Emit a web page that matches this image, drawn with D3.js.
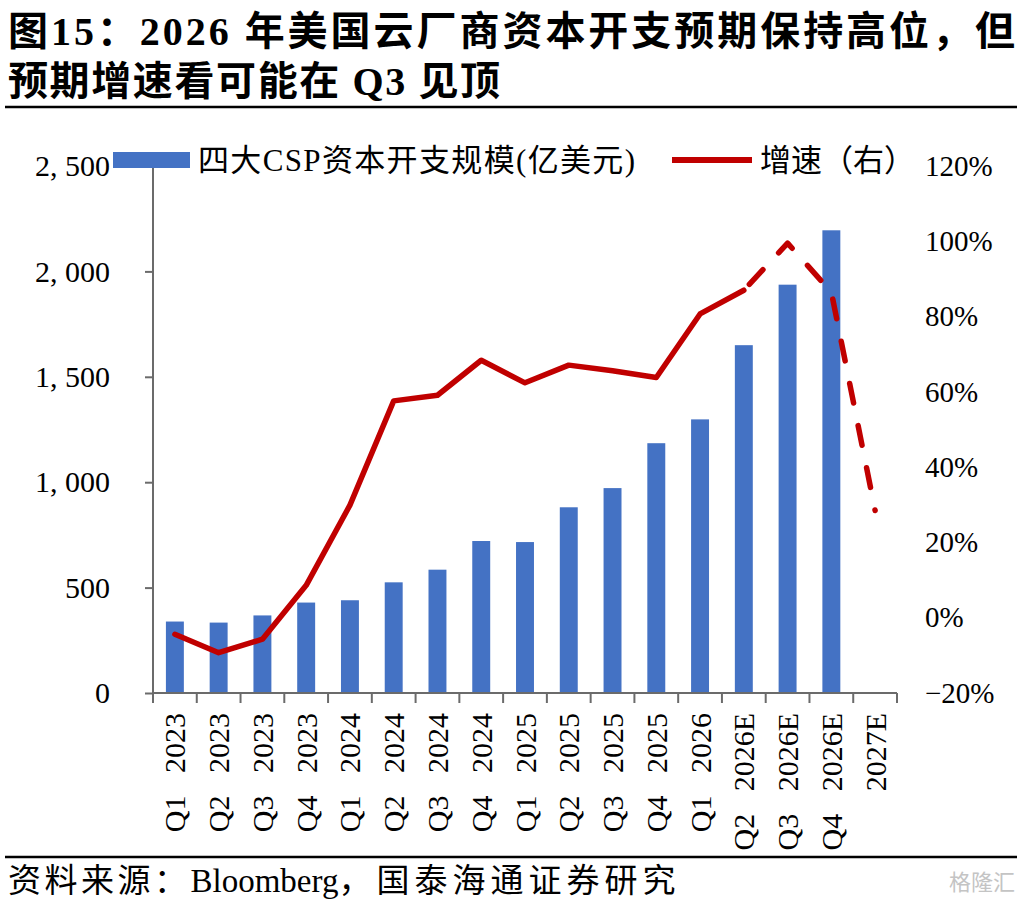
<!DOCTYPE html>
<html>
<head>
<meta charset="utf-8">
<title>图15</title>
<script src="https://cdn.jsdelivr.net/npm/d3@7"></script>
<style>
  body { margin: 0; background: #fff; }
  text { font-family: "Liberation Serif", "Noto Sans CJK SC", serif; }
</style>
</head>
<body>
<svg width="1022" height="905"></svg>
<script>
// data
var categories = ["Q1 2023", "Q2 2023", "Q3 2023", "Q4 2023",
                  "Q1 2024", "Q2 2024", "Q3 2024", "Q4 2024",
                  "Q1 2025", "Q2 2025", "Q3 2025", "Q4 2025",
                  "Q1 2026", "Q2 2026E", "Q3 2026E", "Q4 2026E", "2027E"];
var capex = [339, 334, 368, 429, 440, 525, 585, 721, 716, 881, 972, 1185, 1298, 1650, 1937, 2195, null];
var growth = [-4.4, -9.3, -5.7, 8.6, 29.9, 57.6, 59.1, 68.4, 62.4, 67.1, 65.6, 63.8, 80.7, 87.0, 99.5, 86.5, 28.5];
var dashFrom = 13; // growth line is dashed from Q2 2026E on
var leftTicks = [0, 500, 1000, 1500, 2000, 2500];
var rightTicks = [-20, 0, 20, 40, 60, 80, 100, 120];
var titleLines = ["图15：2026 年美国云厂商资本开支预期保持高位，但", "预期增速看可能在 Q3 见顶"];
var legendLabels = ["四大CSP资本开支规模(亿美元)", "增速（右）"];
var sourceParts = ["资料来源：", "Bloomberg", "，国泰海通证券研究"];

var svg = d3.select("svg"),
    plotL = 153, plotR = 897, plotT = 166, plotB = 693,
    axisColor = "#6b6b6b", barColor = "#4472C4", lineColor = "#C00000";

// title
svg.append("text").attr("x", 8).attr("y", 45)
    .attr("font-size", 40).attr("font-weight", "bold")
    .attr("textLength", 1007).attr("lengthAdjust", "spacing")
    .text(titleLines[0]);
svg.append("text").attr("x", 8).attr("y", 95)
    .attr("font-size", 40).attr("font-weight", "bold")
    .attr("textLength", 492).attr("lengthAdjust", "spacing")
    .text(titleLines[1]);
svg.append("line").attr("x1", 5).attr("x2", 1017).attr("y1", 107).attr("y2", 107)
    .attr("stroke", "#000").attr("stroke-width", 2.5);

var x = d3.scaleBand().domain(categories).range([plotL, plotR]).padding(0);
var y = d3.scaleLinear().domain([0, 2500]).range([plotB, plotT]);
var y2 = d3.scaleLinear().domain([-20, 120]).range([plotB, plotT]);

// bars
var barW = x.bandwidth() * 0.41;
svg.append("g").selectAll("rect")
    .data(categories.map(function(c, i) { return { c: c, v: capex[i] }; })
      .filter(function(d) { return d.v != null; }))
    .enter().append("rect")
      .attr("x", function(d) { return x(d.c) + (x.bandwidth() - barW) / 2; })
      .attr("width", barW)
      .attr("y", function(d) { return y(d.v); })
      .attr("height", function(d) { return y(0) - y(d.v); })
      .attr("fill", barColor);

// left axis
var yAxis = svg.append("g").attr("transform", "translate(" + plotL + ",0)")
    .call(d3.axisLeft(y).tickValues(leftTicks).tickSize(8).tickPadding(35)
      .tickFormat(function(d) { return d3.format(",")(d).replace(",", ", "); }));
yAxis.selectAll("path, line").attr("stroke", axisColor).attr("stroke-width", 2);
yAxis.select(".domain").attr("d", "M0," + plotT + "V" + plotB);
yAxis.selectAll("text").attr("font-size", 30).attr("fill", "#000")
    .style("font-family", "'Liberation Serif', serif");

// right axis, labels only
var y2Axis = svg.append("g").attr("transform", "translate(" + plotR + ",0)")
    .call(d3.axisRight(y2).tickValues(rightTicks).tickSize(0).tickPadding(28)
      .tickFormat(function(d) { return (d < 0 ? "\u2212" : "") + Math.abs(d) + "%"; }));
y2Axis.select(".domain").remove();
y2Axis.selectAll("text").attr("font-size", 29).attr("fill", "#000")
    .style("font-family", "'Liberation Serif', serif");

// x axis
var xAxis = svg.append("g").attr("transform", "translate(0," + plotB + ")")
    .call(d3.axisBottom(x).tickSize(0).tickPadding(0)
      .tickFormat(function(d) { return d.replace(" ", "\u00a0\u00a0\u00a0"); }));
xAxis.select(".domain").attr("d", "M" + plotL + ",0H" + plotR)
    .attr("stroke", axisColor).attr("stroke-width", 2);
xAxis.selectAll("text")
    .attr("font-size", 30).attr("fill", "#000")
    .attr("transform", "rotate(-90)")
    .attr("x", -20).attr("y", 0).attr("dy", "0.35em")
    .style("text-anchor", "end")
    .style("font-family", "'Liberation Serif', serif");
xAxis.selectAll(".bound")
    .data(categories.map(function(c) { return x(c); }).concat([x.range()[1]]))
    .enter().append("line").attr("class", "bound")
      .attr("x1", function(d) { return d; }).attr("x2", function(d) { return d; })
      .attr("y1", 0).attr("y2", 10)
      .attr("stroke", axisColor).attr("stroke-width", 2);

// growth line
var pts = categories.map(function(c, i) { return [x(c) + x.bandwidth() / 2, y2(growth[i])]; });
var line = d3.line();
svg.append("path").attr("d", line(pts.slice(0, dashFrom + 1)))
    .attr("fill", "none").attr("stroke", lineColor).attr("stroke-width", 5.5)
    .attr("stroke-linejoin", "round").attr("stroke-linecap", "round");
var dashed = svg.append("path").attr("d", line(pts.slice(dashFrom)))
    .attr("fill", "none").attr("stroke", lineColor).attr("stroke-width", 5.5)
    .attr("stroke-linejoin", "round").attr("stroke-linecap", "round")
    .attr("stroke-dasharray", "20,23");
// shift the pattern so the dashed run finishes with a dot on the last point
var len = dashed.node().getTotalLength();
dashed.attr("stroke-dashoffset", 0.5 - (len % 43));

// legend
var legend = svg.append("g");
legend.append("rect").attr("x", 113).attr("y", 152).attr("width", 77).attr("height", 16)
    .attr("fill", barColor);
legend.append("text").attr("x", 198).attr("y", 171).attr("font-size", 31)
    .attr("textLength", 437).attr("lengthAdjust", "spacing")
    .text(legendLabels[0]);
legend.append("line").attr("x1", 672).attr("x2", 752).attr("y1", 160).attr("y2", 160)
    .attr("stroke", lineColor).attr("stroke-width", 6);
legend.append("text").attr("x", 760).attr("y", 171).attr("font-size", 31)
    .text(legendLabels[1]);

// source
svg.append("line").attr("x1", 5).attr("x2", 1017).attr("y1", 857).attr("y2", 857)
    .attr("stroke", "#000").attr("stroke-width", 2.5);
var src = svg.append("text").attr("x", 8).attr("y", 892).attr("font-size", 33);
src.append("tspan").attr("letter-spacing", 3.5).text(sourceParts[0]);
src.append("tspan").text(sourceParts[1]);
src.append("tspan").attr("letter-spacing", 5).text(sourceParts[2]);
svg.append("text").attr("x", 1015).attr("y", 890).attr("font-size", 22)
    .attr("text-anchor", "end").attr("fill", "#c4c4c4")
    .text("格隆汇");
</script>
</body>
</html>
